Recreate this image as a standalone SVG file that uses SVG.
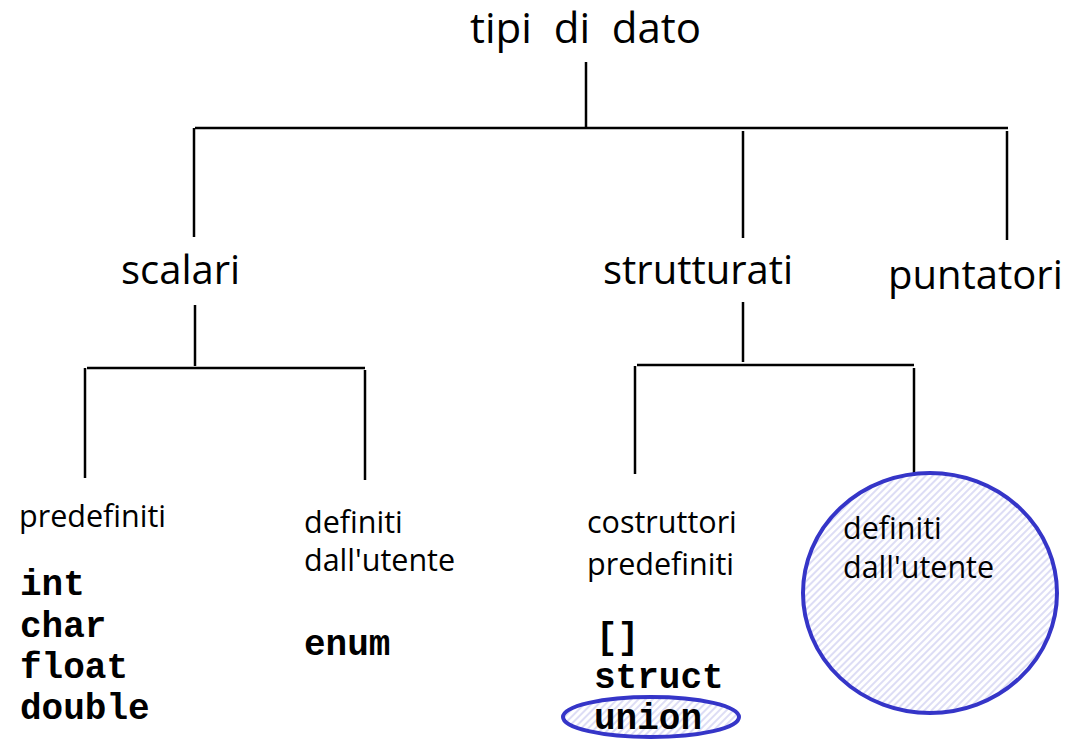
<svg xmlns="http://www.w3.org/2000/svg" width="1082" height="741" viewBox="0 0 1082 741">
<style>
.ln{stroke:#000;stroke-width:2.5;fill:none}
.lbl{font-family:"Open Sans","Liberation Sans",sans-serif;fill:#000}
.big{font-size:40px}
.sm{font-size:30.5px}
.code{font-family:"Liberation Mono","Courier New",monospace;font-weight:bold;font-size:36px;fill:#000}
.hl{fill:url(#hatch);stroke:#3535c8;stroke-width:4}
</style>
<defs>
<pattern id="hatch" width="5" height="5" patternUnits="userSpaceOnUse" patternTransform="rotate(45)">
<rect width="5" height="5" fill="#ffffff"/>
<line x1="1" y1="0" x2="1" y2="5" stroke="#cfcff2" stroke-width="1.4"/>
</pattern>
</defs>
<rect width="1082" height="741" fill="#fff"/>
<g id="connectors">
<line class="ln" x1="586" y1="62" x2="586" y2="127"/>
<line class="ln" x1="195" y1="128" x2="1008" y2="128"/>
<line class="ln" x1="194" y1="128" x2="194" y2="237"/>
<line class="ln" x1="743" y1="131" x2="743" y2="238"/>
<line class="ln" x1="1007" y1="131" x2="1007" y2="240"/>
<line class="ln" x1="195" y1="305" x2="195" y2="366"/>
<line class="ln" x1="87" y1="368" x2="365" y2="368"/>
<line class="ln" x1="85" y1="368" x2="85" y2="478"/>
<line class="ln" x1="365" y1="370" x2="365" y2="480"/>
<line class="ln" x1="743" y1="302" x2="743" y2="362"/>
<line class="ln" x1="637" y1="365" x2="914" y2="365"/>
<line class="ln" x1="635" y1="366" x2="635" y2="474"/>
<line class="ln" x1="914" y1="368" x2="914" y2="476"/>
</g>
<g id="root"><text class="lbl" x="470" y="43" font-size="42" xml:space="preserve">tipi  di  dato</text></g>
<g id="scalari"><text class="lbl big" x="121" y="284">scalari</text></g>
<g id="strutturati"><text class="lbl big" x="603" y="284">strutturati</text></g>
<g id="puntatori"><text class="lbl big" x="888" y="289">puntatori</text></g>
<g id="predefiniti">
<text class="lbl sm" x="19" y="527">predefiniti</text>
<text class="code" x="20" y="595">int</text>
<text class="code" x="20" y="637">char</text>
<text class="code" x="20" y="678">float</text>
<text class="code" x="20" y="719">double</text>
</g>
<g id="definiti-scalari">
<text class="lbl sm" x="304" y="533">definiti</text>
<text class="lbl sm" x="304" y="571">dall'utente</text>
<text class="code" x="304" y="655">enum</text>
</g>
<g id="costruttori">
<text class="lbl sm" x="587" y="533">costruttori</text>
<text class="lbl sm" x="587" y="575">predefiniti</text>
<text class="code" x="596" y="648">[]</text>
<text class="code" x="594" y="688">struct</text>
<ellipse class="hl" cx="651" cy="717" rx="88" ry="20"/>
<text class="code" x="594" y="729">union</text>
</g>
<g id="definiti-strutturati">
<ellipse class="hl" cx="930" cy="593" rx="127" ry="120"/>
<text class="lbl sm" x="843" y="539">definiti</text>
<text class="lbl sm" x="843" y="578">dall'utente</text>
</g>
</svg>
